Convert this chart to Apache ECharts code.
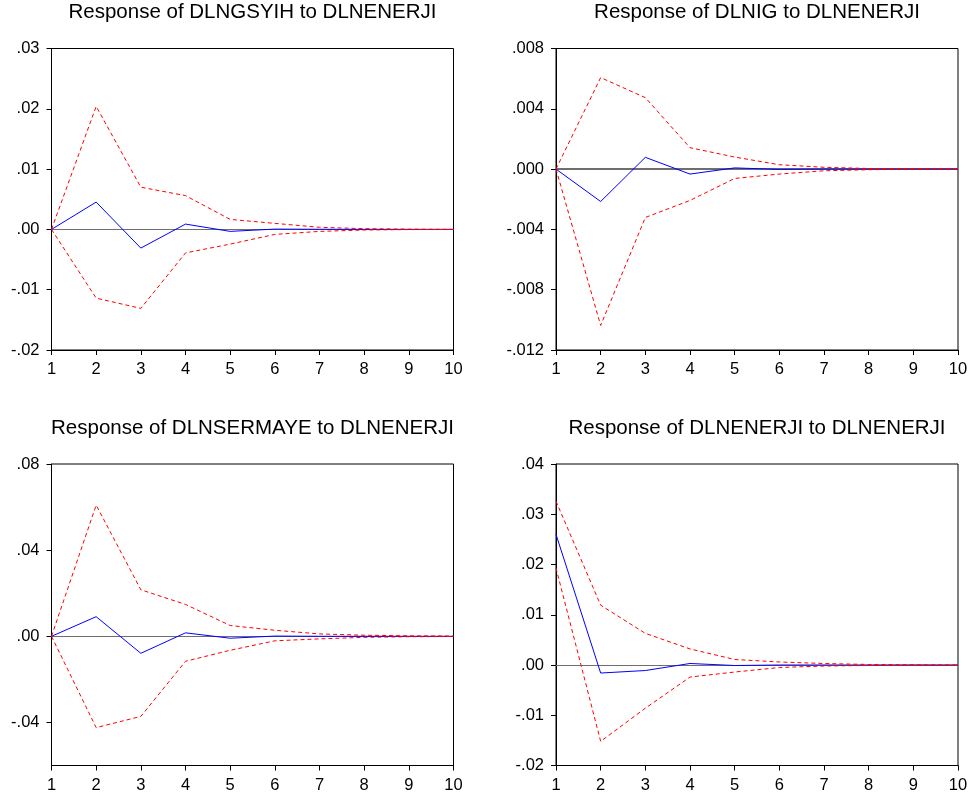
<!DOCTYPE html>
<html>
<head>
<meta charset="utf-8">
<title>Impulse responses to DLNENERJI</title>
<script src="https://cdn.jsdelivr.net/npm/echarts@6/dist/echarts.min.js"></script>
<style>
  html, body { margin: 0; padding: 0; background: #fff; }
  #chart { width: 972px; height: 800px; }
</style>
</head>
<body>
<div id="chart"></div>
<script>
// Forecast horizon (periods)
const periods = [1, 2, 3, 4, 5, 6, 7, 8, 9, 10];

// Response of DLNGSYIH to DLNENERJI
const gsyihResp  = [0, 0.00453, -0.0031, 0.00088, -0.00033, 0.00005, 0.00002, 0.00001, 0, 0];
const gsyihUpper = [0, 0.0204, 0.0070, 0.0056, 0.00166, 0.0010, 0.00035, 0.00012, 0.00004, 0.00001];
const gsyihLower = [0, -0.0114, -0.0131, -0.0039, -0.00244, -0.00083, -0.00033, -0.0001, -0.00003, -0.00001];
const gsyihTicks = [-0.02, -0.01, 0, 0.01, 0.02, 0.03];

// Response of DLNIG to DLNENERJI
const igResp  = [0, -0.00215, 0.00078, -0.00033, 0.00008, -0.00002, 0, 0, 0, 0];
const igUpper = [0, 0.00607, 0.00474, 0.00142, 0.0008, 0.00029, 0.00012, 0.00004, 0.00001, 0];
const igLower = [0, -0.01037, -0.00321, -0.00208, -0.00062, -0.00033, -0.00011, -0.00004, -0.00001, 0];
const igTicks = [-0.012, -0.008, -0.004, 0, 0.004, 0.008];

// Response of DLNSERMAYE to DLNENERJI
const sermayeResp  = [0, 0.0091, -0.0079, 0.0016, -0.0009, 0.0001, 0, 0, 0, 0];
const sermayeUpper = [0, 0.0609, 0.0216, 0.0148, 0.0050, 0.0028, 0.0011, 0.0005, 0.0002, 0.0001];
const sermayeLower = [0, -0.0424, -0.0372, -0.0116, -0.0065, -0.0021, -0.0012, -0.0005, -0.0002, -0.0001];
const sermayeTicks = [-0.04, 0, 0.04, 0.08];

// Response of DLNENERJI to DLNENERJI
const enerjiResp  = [0.0260, -0.0016, -0.0011, 0.0003, -0.0001, 0, 0, 0, 0, 0];
const enerjiUpper = [0.0326, 0.0119, 0.0063, 0.0032, 0.0011, 0.0006, 0.0003, 0.0001, 0.00005, 0];
const enerjiLower = [0.0193, -0.0152, -0.0086, -0.0024, -0.0014, -0.0005, -0.0002, -0.0001, 0, 0];
const enerjiTicks = [-0.02, -0.01, 0, 0.01, 0.02, 0.03, 0.04];

const panels = [
  { title: 'Response of DLNGSYIH to DLNENERJI', resp: gsyihResp, upper: gsyihUpper, lower: gsyihLower,
    ticks: gsyihTicks, min: -0.02, max: 0.03, dec: 2, left: 51.5, top: 48.5, zeroWidth: 1 },
  { title: 'Response of DLNIG to DLNENERJI', resp: igResp, upper: igUpper, lower: igLower,
    ticks: igTicks, min: -0.012, max: 0.008, dec: 3, left: 556, top: 48.5, zeroWidth: 2 },
  { title: 'Response of DLNSERMAYE to DLNENERJI', resp: sermayeResp, upper: sermayeUpper, lower: sermayeLower,
    ticks: sermayeTicks, min: -0.06, max: 0.08, dec: 2, left: 51.5, top: 464, zeroWidth: 1 },
  { title: 'Response of DLNENERJI to DLNENERJI', resp: enerjiResp, upper: enerjiUpper, lower: enerjiLower,
    ticks: enerjiTicks, min: -0.02, max: 0.04, dec: 2, left: 556, top: 464, zeroWidth: 1 }
];

const PLOT_W = 402;
const PLOT_H = 301.5;
const FONT = '"Liberation Sans", Arial, sans-serif';

// EViews-style tick text: no leading zero (".03", "-.004")
function shortNum(v, dec) {
  let s = Math.abs(v) < 1e-12 ? (0).toFixed(dec) : v.toFixed(dec);
  return s.replace(/^(-?)0\./, '$1.');
}

const option = {
  animation: false,
  backgroundColor: '#ffffff',
  title: [], grid: [], xAxis: [], yAxis: [], series: []
};

panels.forEach((p, i) => {
  option.title.push({
    text: p.title,
    left: p.left + PLOT_W / 2,
    top: p.top - 46.5,
    padding: 0,
    textAlign: 'center',
    textStyle: { fontFamily: FONT, fontSize: 20.5, fontWeight: 'normal', color: '#000' }
  });
  option.grid.push({
    left: p.left, top: p.top, width: PLOT_W, height: PLOT_H,
    show: true, borderColor: '#000', borderWidth: 1, backgroundColor: '#fff'
  });
  option.xAxis.push({
    type: 'value', gridIndex: i, min: 1, max: 10, interval: 1,
    axisLine: { show: true, onZero: false, lineStyle: { color: '#000', width: 1 } },
    axisTick: { show: true, inside: false, length: 5, lineStyle: { color: '#000' } },
    axisLabel: { show: true, margin: 11, fontFamily: FONT, fontSize: 16.5, color: '#000' },
    splitLine: { show: false }
  });
  option.yAxis.push({
    type: 'value', gridIndex: i, min: p.min, max: p.max,
    axisLine: { show: true, onZero: false, lineStyle: { color: '#000', width: 1 } },
    axisTick: { show: true, inside: false, length: 5, customValues: p.ticks, lineStyle: { color: '#000' } },
    axisLabel: {
      show: true, margin: 12, customValues: p.ticks,
      fontFamily: FONT, fontSize: 16.5, color: '#000',
      formatter: v => shortNum(v, p.dec)
    },
    splitLine: { show: false }
  });

  const toPairs = arr => periods.map((x, k) => [x, arr[k]]);

  // Impulse response with the zero reference line
  option.series.push({
    type: 'line', xAxisIndex: i, yAxisIndex: i, data: toPairs(p.resp),
    symbol: 'none', z: 3,
    lineStyle: { color: '#0000ff', width: 1 },
    markLine: {
      silent: true, symbol: 'none', label: { show: false }, z: 1,
      lineStyle: { color: '#6e6e6e', width: p.zeroWidth, type: 'solid' },
      data: [{ yAxis: 0 }]
    }
  });
  // ±2 S.E. bands
  [p.upper, p.lower].forEach(band => {
    option.series.push({
      type: 'line', xAxisIndex: i, yAxisIndex: i, data: toPairs(band),
      symbol: 'none', z: 4,
      lineStyle: { color: '#ff0000', width: 1, type: [4, 3] }
    });
  });
});

const chart = echarts.init(document.getElementById('chart'), null, { renderer: 'canvas' });
chart.setOption(option);
</script>
</body>
</html>
